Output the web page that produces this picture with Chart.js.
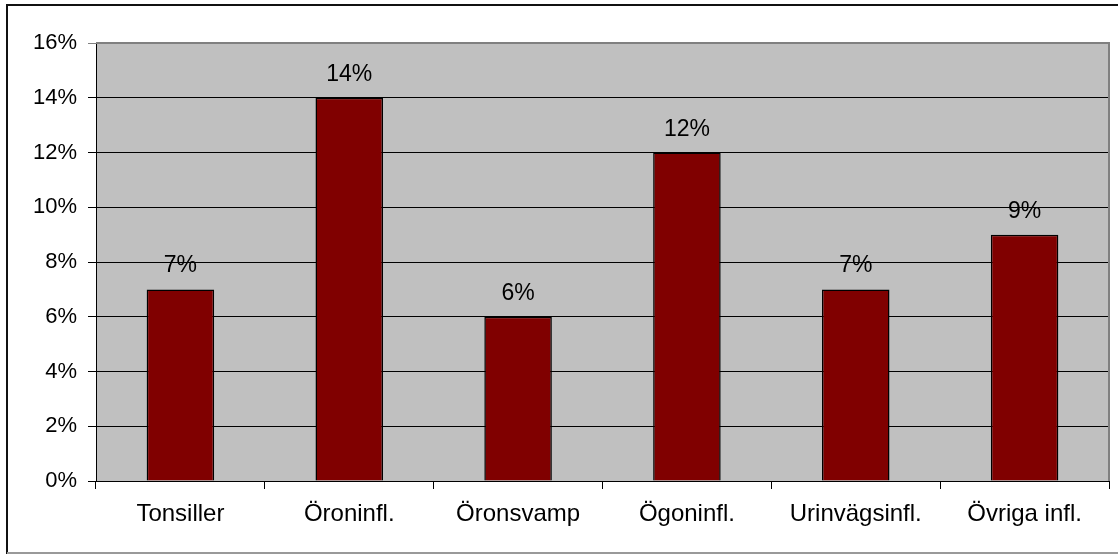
<!DOCTYPE html>
<html>
<head>
<meta charset="utf-8">
<style>
  html, body { margin: 0; padding: 0; background: #fff; }
  canvas { display: block; }
</style>
<script src="https://cdn.jsdelivr.net/npm/chart.js@4"></script>
</head>
<body>
<canvas id="chart" width="1118" height="555"></canvas>
<script>
const categories = ['Tonsiller', 'Öroninfl.', 'Öronsvamp', 'Ögoninfl.', 'Urinvägsinfl.', 'Övriga infl.'];
const shares = [7, 14, 6, 12, 7, 9];
const yTicks = [0, 2, 4, 6, 8, 10, 12, 14, 16];

const FONT = "'Liberation Sans', Arial, sans-serif";

// grey plot area, outer frame and the value labels above the bars
const excelLook = {
  id: 'excelLook',
  beforeDraw(chart) {
    const { ctx, chartArea: a } = chart;
    ctx.save();
    ctx.fillStyle = '#c0c0c0';
    ctx.fillRect(a.left, a.top, a.right - a.left, a.bottom - a.top);
    ctx.restore();
  },
  afterDraw(chart) {
    const { ctx, chartArea: a } = chart;
    ctx.save();
    ctx.strokeStyle = '#808080';
    ctx.lineWidth = 2;
    ctx.beginPath();
    ctx.moveTo(a.left, a.top);
    ctx.lineTo(a.right, a.top);
    ctx.lineTo(a.right, a.bottom);
    ctx.stroke();
    // outer frame
    ctx.strokeStyle = '#111';
    ctx.lineWidth = 2;
    ctx.beginPath();
    ctx.moveTo(7, 554);
    ctx.lineTo(7, 5);
    ctx.lineTo(1118, 5);
    ctx.stroke();
    ctx.strokeStyle = '#999';
    ctx.beginPath();
    ctx.moveTo(7, 553);
    ctx.lineTo(1118, 553);
    ctx.stroke();
    ctx.restore();
  },
  afterDatasetsDraw(chart) {
    const { ctx } = chart;
    const meta = chart.getDatasetMeta(0);
    ctx.save();
    ctx.fillStyle = '#000';
    ctx.font = '23px ' + FONT;
    ctx.textAlign = 'center';
    ctx.textBaseline = 'alphabetic';
    meta.data.forEach((bar, i) => {
      ctx.fillText(shares[i] + '%', bar.x, bar.y - 17);
    });
    ctx.restore();
  }
};

new Chart(document.getElementById('chart'), {
  type: 'bar',
  data: {
    labels: categories,
    datasets: [{
      data: shares,
      backgroundColor: '#800000',
      borderColor: '#000',
      borderWidth: 1.5,
      barPercentage: 0.4,
      categoryPercentage: 1
    }]
  },
  options: {
    responsive: false,
    animation: false,
    layout: { padding: { top: 43, right: 9, left: 0, bottom: 0 } },
    plugins: { legend: { display: false }, tooltip: { enabled: false } },
    scales: {
      x: {
        offset: true,
        grid: { offset: true, drawOnChartArea: false, color: '#000', tickLength: 8, lineWidth: 1 },
        border: { color: '#000', width: 1 },
        ticks: { color: '#000', font: { family: FONT, size: 24 }, padding: 11, maxRotation: 0 },
        afterFit(scale) { scale.height = 74; }
      },
      y: {
        min: 0,
        max: 16,
        afterBuildTicks(scale) { scale.ticks = yTicks.map(v => ({ value: v })); },
        grid: {
          color: ctx => (ctx.tick && ctx.tick.value === 16 ? '#808080' : '#000'),
          tickLength: 8,
          lineWidth: 1
        },
        border: { color: '#000', width: 1 },
        ticks: {
          color: '#000',
          font: { family: FONT, size: 22 },
          padding: 11,
          callback: v => v + '%'
        },
        afterFit(scale) { scale.width = 96; }
      }
    }
  },
  plugins: [excelLook]
});
</script>
</body>
</html>
